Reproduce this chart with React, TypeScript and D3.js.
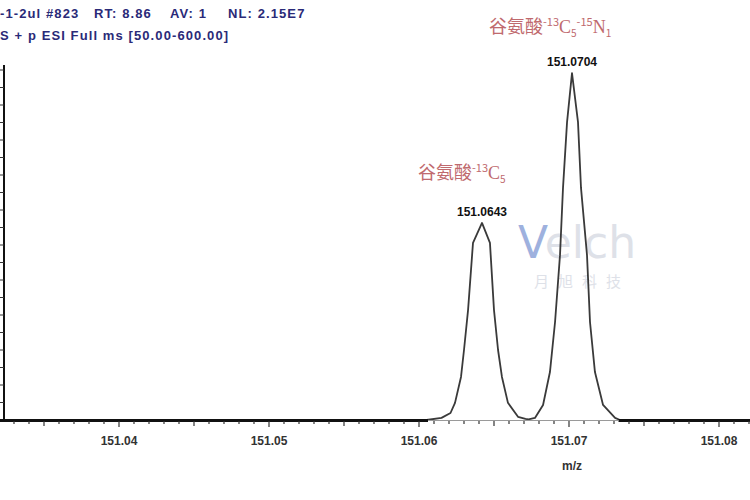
import { useEffect, useRef } from "react";
import * as d3 from "d3";

// profile spectrum (m/z, relative abundance)
const spectrumMz = [
  151.0605, 151.0615, 151.0621, 151.0624, 151.0628, 151.063, 151.06327, 151.0636, 151.0642, 151.06473,
  151.065, 151.06527, 151.06553, 151.06593, 151.0666, 151.0671, 151.0673, 151.06773, 151.06827,
  151.06873, 151.06907, 151.0694, 151.0696, 151.06987, 151.0702, 151.0706, 151.0708, 151.0712,
  151.0714, 151.07173, 151.07227, 151.07307, 151.0734,
];
const spectrumInt = [
  0, 0.6, 2, 4.9, 12.3, 20, 31.4, 50.6, 56.3, 50.6,
  31.4, 20, 12.3, 4.9, 0.9, 0.3, 0.2, 0.6, 4.3,
  13.7, 28, 47.1, 66.3, 85.1, 99.1, 85.1, 66.3, 47.1,
  28, 13.7, 4.3, 0.6, 0,
];

const peakLabels = ["151.0643", "151.0704"];
const peakLabelMz = [151.0642, 151.0702];
const peakLabelInt = [56.3, 99.1];

const xTicks = [151.04, 151.05, 151.06, 151.07, 151.08];
const headerRow1 = ["-1-2ul #823", "RT: 8.86", "AV: 1", "NL: 2.15E7"];
const headerRow1X = [0, 94, 170, 228];
const headerRow2 = "S + p ESI Full ms [50.00-600.00]";

export default function App() {
  const svgRef = useRef<SVGSVGElement>(null);

  useEffect(() => {
    if (!svgRef.current) return;
    const width = 750;
    const height = 500;
    const svg = d3.select(svgRef.current);
    svg.selectAll("*").remove();
    svg.attr("width", width).attr("height", height);

    const x = d3.scaleLinear().domain([151.04, 151.08]).range([119, 719]);
    const y = d3.scaleLinear().domain([0, 100]).range([420, 70]);

    // header
    const hdr = svg.append("g")
      .attr("fill", "#2a2a78")
      .attr("font-family", "Liberation Sans, Arial, sans-serif")
      .attr("font-weight", "bold")
      .attr("font-size", "13px")
      .attr("letter-spacing", "1.1px");
    hdr.selectAll("text")
      .data(headerRow1)
      .enter()
      .append("text")
      .attr("x", (_d, i) => headerRow1X[i])
      .attr("y", 18)
      .text((d) => d);
    hdr.append("text").attr("x", 0).attr("y", 40).text(headerRow2);

    // watermark
    const wm = svg.append("g").attr("opacity", 0.55);
    wm.append("text")
      .attr("x", 518)
      .attr("y", 258)
      .attr("font-family", "DejaVu Sans, sans-serif")
      .attr("font-size", "44px")
      .attr("fill", "#c4c9d6")
      .html('<tspan fill="#4f72c4">V</tspan>elch');
    wm.append("text")
      .attr("x", 534)
      .attr("y", 287)
      .attr("font-family", "Noto Sans CJK SC, sans-serif")
      .attr("font-size", "15px")
      .attr("letter-spacing", "9px")
      .attr("fill", "#c4c9d6")
      .text("月旭科技");

    // y axis
    svg.append("line")
      .attr("x1", 4).attr("x2", 4)
      .attr("y1", 65).attr("y2", 421)
      .attr("stroke", "#111").attr("stroke-width", 2);
    svg.selectAll(".ytick")
      .data(d3.range(0, 101, 5))
      .enter()
      .append("line")
      .attr("x1", 0).attr("x2", 4)
      .attr("y1", (d) => y(d)).attr("y2", (d) => y(d))
      .attr("stroke", "#333").attr("stroke-width", 1);

    // spectrum
    const line = d3.line<[number, number]>()
      .x((d) => x(d[0]))
      .y((d) => y(d[1]))
      .curve(d3.curveLinear);
    svg.append("path")
      .datum(spectrumMz.map((m, i) => [m, spectrumInt[i]] as [number, number]))
      .attr("d", line)
      .attr("fill", "none")
      .attr("stroke", "#3a3a3a")
      .attr("stroke-width", 1.8)
      .attr("stroke-linejoin", "round");

    // x axis baseline (lighter under the peaks)
    const seg = [[151.032, 151.0606], [151.0733, 151.083]];
    seg.forEach(([a, b]) => {
      svg.append("line")
        .attr("x1", x(a)).attr("x2", x(b))
        .attr("y1", 420.5).attr("y2", 420.5)
        .attr("stroke", "#111").attr("stroke-width", 3);
    });
    svg.append("line")
      .attr("x1", x(151.0606)).attr("x2", x(151.0733))
      .attr("y1", 420.5).attr("y2", 420.5)
      .attr("stroke", "#9a9a9a").attr("stroke-width", 1.2);

    const minor = d3.range(151.032, 151.083, 0.001).map((v) => +v.toFixed(3));
    svg.selectAll(".xtick")
      .data(minor)
      .enter()
      .append("line")
      .attr("x1", (d) => x(d)).attr("x2", (d) => x(d))
      .attr("y1", 421)
      .attr("y2", (d) => {
        const k = Math.round(d * 1000) % 10;
        return 421 + (k === 0 ? 6 : k === 5 ? 5 : 3);
      })
      .attr("stroke", "#333")
      .attr("stroke-width", 1.2);

    svg.selectAll(".xlab")
      .data(xTicks)
      .enter()
      .append("text")
      .attr("x", (d) => x(d))
      .attr("y", 445)
      .attr("text-anchor", "middle")
      .attr("font-family", "Liberation Sans, Arial, sans-serif")
      .attr("font-weight", "bold")
      .attr("font-size", "12px")
      .attr("fill", "#333")
      .text((d) => d3.format(".2f")(d));

    svg.append("text")
      .attr("x", x(151.07) + 3)
      .attr("y", 470)
      .attr("text-anchor", "middle")
      .attr("font-family", "Liberation Sans, Arial, sans-serif")
      .attr("font-weight", "bold")
      .attr("font-size", "12px")
      .attr("fill", "#333")
      .text("m/z");

    // peak labels
    svg.selectAll(".plab")
      .data(peakLabels)
      .enter()
      .append("text")
      .attr("x", (_d, i) => x(peakLabelMz[i]))
      .attr("y", (_d, i) => y(peakLabelInt[i]) - 7)
      .attr("text-anchor", "middle")
      .attr("font-family", "Liberation Sans, Arial, sans-serif")
      .attr("font-weight", "bold")
      .attr("font-size", "12px")
      .attr("fill", "#111")
      .text((d) => d);

    // compound annotations
    const ann = svg.append("g")
      .attr("font-family", "Noto Sans CJK SC, serif")
      .attr("fill", "#c06a6e");
    ann.append("text")
      .attr("x", 418)
      .attr("y", 179)
      .attr("font-size", "18px")
      .html('谷氨酸<tspan font-size="11px" dy="-7">-13</tspan><tspan font-family="Liberation Serif, serif" font-size="18px" dy="7">C</tspan><tspan font-size="10px" dy="4">5</tspan>');
    ann.append("text")
      .attr("x", 489)
      .attr("y", 33)
      .attr("font-size", "18px")
      .html('谷氨酸<tspan font-size="11px" dy="-7">-13</tspan><tspan font-family="Liberation Serif, serif" font-size="18px" dy="7">C</tspan><tspan font-size="10px" dy="4">5</tspan><tspan font-size="11px" dy="-11">-15</tspan><tspan font-family="Liberation Serif, serif" font-size="18px" dy="7">N</tspan><tspan font-size="10px" dy="4">1</tspan>');
  }, []);

  return (
    <svg
      ref={svgRef}
      width={750}
      height={500}
      style={{ position: "absolute", left: 0, top: 0, background: "#fff" }}
    />
  );
}
